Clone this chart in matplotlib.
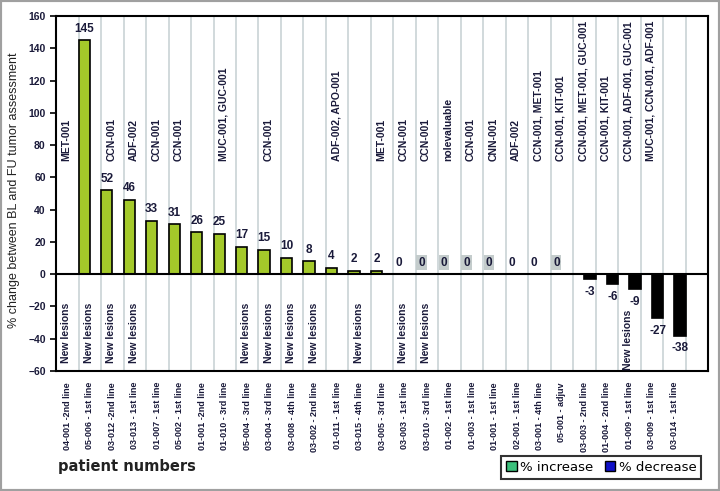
import matplotlib.pyplot as plt
import numpy as np
from matplotlib.patches import Patch, Rectangle

patients = ['04-001 -2nd line', '05-006 - 1st line', '03-012 -2nd line', '03-013 - 1st line',
            '01-007 - 1st line', '05-002 - 1st line', '01-001 -2nd line', '01-010 - 3rd line',
            '05-004 - 3rd line', '03-004 - 3rd line', '03-008 - 4th line', '03-002 - 2nd line',
            '01-011 - 1st line', '03-015 - 4th line', '03-005 - 3rd line', '03-003 - 1st line',
            '03-010 - 3rd line', '01-002 - 1st line', '01-003 - 1st line', '01-001 - 1st line',
            '02-001 - 1st line', '03-001 - 4th line', '05-001 - adjuv', '03-003 - 2nd line',
            '01-004 - 2nd line', '01-009 - 1st line', '03-009 - 1st line', '03-014 - 1st line']
nan = np.nan
increase = [nan, 145, 52, 46, 33, 31, 26, 25, 17, 15, 10, 8, 4, 2, 2, 0, 0, 0, 0, 0, 0, 0, 0,
            nan, nan, nan, nan, nan]
decrease = [nan] * 23 + [-3, -6, -9, -27, -38]
boxed_zero = [16, 17, 18, 19, 22]

lesion_idx = [0, 1, 2, 3, 8, 9, 10, 11, 13, 15, 16, 25]
note_idx = [0, 2, 3, 4, 5, 7, 9, 12, 14, 15, 16, 17, 18, 19, 20, 21, 22, 23, 24, 25, 26]
note_text = ['MET-001', 'CCN-001', 'ADF-002', 'CCN-001', 'CCN-001', 'MUC-001, GUC-001', 'CCN-001',
             'ADF-002, APO-001', 'MET-001', 'CCN-001', 'CCN-001', 'nolevaluable', 'CCN-001',
             'CNN-001', 'ADF-002', 'CCN-001, MET-001', 'CCN-001, KIT-001',
             'CCN-001, MET-001, GUC-001', 'CCN-001, KIT-001', 'CCN-001, ADF-001, GUC-001',
             'MUC-001, CCN-001, ADF-001']

narrow = ['Liberation Sans Narrow', 'Liberation Sans', 'DejaVu Sans']
ink = '#1a1a3a'

fig = plt.figure(figsize=(7.2, 4.91), dpi=100)
ax = fig.add_axes([0.078, 0.2444, 0.9055, 0.723])
x = np.arange(len(patients))

for b in np.arange(0.5, len(patients)):
    ax.axvline(b, color='#c9d3d6', lw=1.2, zorder=0)

ax.bar(x - 0.25, increase, 0.5, color='#a4c92a', edgecolor='black', lw=1.2, zorder=2)
ax.bar(x + 0.25, decrease, 0.5, color='black', edgecolor='black', lw=1.2, zorder=2)
ax.axhline(0, color='black', lw=1.5, zorder=3)

for i, v in enumerate(increase):
    if np.isnan(v):
        continue
    box = None
    if i in boxed_zero:
        box = dict(boxstyle='square,pad=0.15', fc='#c4cccc', ec='none')
    ax.annotate(f'{v:g}', (i - 0.25, v), xytext=(0, 4), textcoords='offset points',
                ha='center', va='bottom', fontsize=8.5, fontweight='bold', color=ink,
                family=narrow, bbox=box)
for i, v in enumerate(decrease):
    if np.isnan(v):
        continue
    ax.annotate(f'{v:g}', (i + 0.25, v), xytext=(0, -5), textcoords='offset points',
                ha='center', va='top', fontsize=8.5, fontweight='bold', color=ink, family=narrow)

for i in lesion_idx:
    y = -18 if np.isnan(decrease[i]) else decrease[i] - 13
    ax.text(i - 0.05, y, 'New lesions', rotation=90, ha='center', va='top',
            fontsize=7.5, fontweight='bold', color=ink, family=narrow)
for i, t in zip(note_idx, note_text):
    ax.text(i - 0.05, 70, t, rotation=90, ha='center', va='bottom',
            fontsize=7.5, fontweight='bold', color=ink, family=narrow)

ax.set_xlim(-0.5, len(patients) + 0.5)
ax.set_ylim(-60, 160)
ax.set_yticks(range(-60, 161, 20))
ax.set_xticks(x)
ax.set_xticklabels(patients, rotation=90, fontsize=6.5, fontweight='bold', color=ink, family=narrow)
ax.tick_params(axis='x', length=0, pad=8)
ax.tick_params(axis='y', length=4, width=1.2, labelsize=7.5, labelcolor=ink)
for lab in ax.get_yticklabels():
    lab.set_fontweight('bold')
    lab.set_family(narrow)
for s in ax.spines.values():
    s.set_linewidth(1.5)

ax.set_ylabel('% change between BL and FU tumor assessment', fontsize=9, color='#222',
              family=narrow)
ax.yaxis.set_label_coords(-0.055, 0.51)
fig.text(0.08, 0.049, 'patient numbers', fontsize=10.5, fontweight='bold', color='#222', va='center')

handles = [Patch(fc='#3cc07c', ec='black', lw=1, label='% increase'),
           Patch(fc='#1010c8', ec='black', lw=1, label='% decrease')]
leg = fig.legend(handles=handles, loc='lower right', bbox_to_anchor=(0.983, 0.012), ncol=2,
                 fontsize=9.5, frameon=True, fancybox=False, handlelength=0.8, handleheight=0.8,
                 handletextpad=0.25, columnspacing=0.9, borderpad=0.35)
leg.get_frame().set_edgecolor('black')
leg.get_frame().set_linewidth(1.5)

fig.patches.append(Rectangle((0, 0), 1, 1, transform=fig.transFigure, fill=False,
                             ec='#a0a0a0', lw=3))

fig.savefig('out.png', dpi=100)
